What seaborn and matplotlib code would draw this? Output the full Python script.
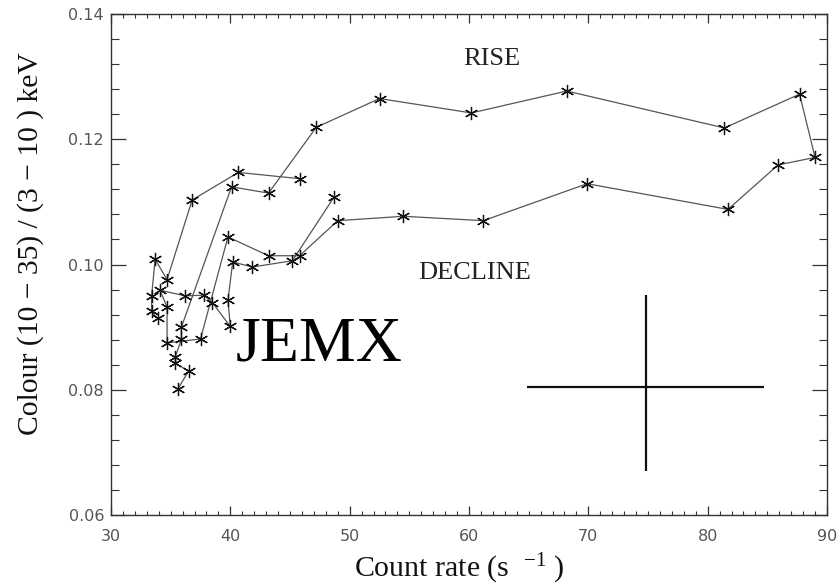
import matplotlib
matplotlib.use("Agg")
import matplotlib.pyplot as plt
import seaborn as sns
import pandas as pd
from matplotlib.ticker import MultipleLocator

# ---- data ----
# main track: low cluster -> rise -> peak -> decline -> back into cluster
main_rate = [35.6, 36.5, 35.4, 35.4, 35.9, 35.9, 40.1, 43.2, 47.2, 52.5, 60.2, 68.2,
             81.4, 87.7, 89.0, 85.9, 81.7, 69.9, 61.2, 54.5, 49.0, 45.8, 43.2, 39.8,
             37.5, 34.7, 34.7, 34.1, 36.2, 37.8, 38.5, 40.0, 39.8, 40.2, 41.85, 45.2, 48.7]
main_colour = [0.0801, 0.0830, 0.0842, 0.0853, 0.0881, 0.0900, 0.1124, 0.1114, 0.1219,
               0.1265, 0.1242, 0.1277, 0.1218, 0.1272, 0.1171, 0.1159, 0.1088, 0.1129,
               0.1070, 0.1077, 0.1070, 0.1014, 0.1014, 0.1044, 0.0881, 0.0875, 0.0932,
               0.0959, 0.0950, 0.0951, 0.0939, 0.0901, 0.0943, 0.1004, 0.0996, 0.1006, 0.1108]
# second short track
side_rate = [33.9, 33.4, 33.4, 33.7, 34.7, 36.8, 40.67, 45.84]
side_colour = [0.0914, 0.0925, 0.0950, 0.1008, 0.0976, 0.1103, 0.1147, 0.1137]

# typical error bar
err_rate = [74.8]
err_colour = [0.0805]
err_rate_half = [9.95]
err_colour_low = [0.0134]
err_colour_high = [0.0146]

df = pd.DataFrame({
    "rate": main_rate + side_rate,
    "colour": main_colour + side_colour,
    "seg": ["main"] * len(main_rate) + ["side"] * len(side_rate),
})

sns.set_theme(style="white")
plt.rcParams["font.family"] = ["Liberation Serif", "DejaVu Serif"]
plt.rcParams["mathtext.fontset"] = "custom"
plt.rcParams["mathtext.rm"] = "Liberation Serif"
plt.rcParams["mathtext.it"] = "Liberation Serif:italic"

fig = plt.figure(figsize=(8.4, 5.86), dpi=100)
ax = fig.add_axes([111 / 840, 1 - 515 / 586, (827 - 111) / 840, (515 - 14) / 586])

sns.lineplot(data=df, x="rate", y="colour", units="seg", estimator=None, sort=False,
             color="#555555", linewidth=0.9, marker=(6, 2, 0), markersize=9.5,
             markeredgecolor="#111111", markeredgewidth=0.9, ax=ax, legend=False)

ax.errorbar(err_rate, err_colour, xerr=[err_rate_half, err_rate_half],
            yerr=[err_colour_low, err_colour_high], fmt="none", ecolor="#111111",
            elinewidth=1.6, capsize=0)

ax.set_xlim(30, 90)
ax.set_ylim(0.06, 0.14)
ax.xaxis.set_major_locator(MultipleLocator(10))
ax.xaxis.set_minor_locator(MultipleLocator(1))
ax.yaxis.set_major_locator(MultipleLocator(0.02))
ax.yaxis.set_minor_locator(MultipleLocator(0.004))

for sp in ax.spines.values():
    sp.set_color("#333333")
    sp.set_linewidth(1.0)

ax.tick_params(axis="x", which="major", direction="in", length=6.5, width=0.9,
               top=True, bottom=True, color="#333333", pad=10)
ax.tick_params(axis="x", which="minor", direction="in", length=3, width=0.8,
               top=True, bottom=True, color="#333333")
ax.tick_params(axis="y", which="major", direction="in", length=11, width=0.9,
               left=True, right=True, color="#333333", pad=5)
ax.tick_params(axis="y", which="minor", direction="in", length=5.5, width=0.8,
               left=True, right=True, color="#333333")

ax.xaxis.set_major_formatter(plt.FuncFormatter(lambda v, p: f"{v:.0f}"))
ax.yaxis.set_major_formatter(plt.FuncFormatter(lambda v, p: f"{v:.2f}"))
for lab in ax.get_xticklabels() + ax.get_yticklabels():
    lab.set_family("DejaVu Sans")
    lab.set_fontsize(11.5)
    lab.set_color("#555555")

ax.set_xlabel(r"Count rate (s  $^{-1}$ )", fontsize=21.5, color="#111111", labelpad=4)
ax.xaxis.set_label_coords(0.487, -0.074, transform=ax.transAxes)
ax.xaxis.label.set_va("top")
ax.set_ylabel("Colour (10 \u2212 35) / (3 \u2212 10 ) keV", fontsize=21.3,
              color="#111111")
ax.yaxis.set_label_coords(-0.094, 0.541, transform=ax.transAxes)

ax.text(61.9, 0.1328, "RISE", fontsize=19, ha="center", va="center", color="#222222")
ax.text(60.5, 0.0987, "DECLINE", fontsize=19, ha="center", va="center", color="#222222")
ax.text(47.4, 0.0871, "JEMX", fontsize=46, ha="center", va="center", color="black")

ax.grid(False)
fig.savefig("out.png", dpi=100, facecolor="white")
